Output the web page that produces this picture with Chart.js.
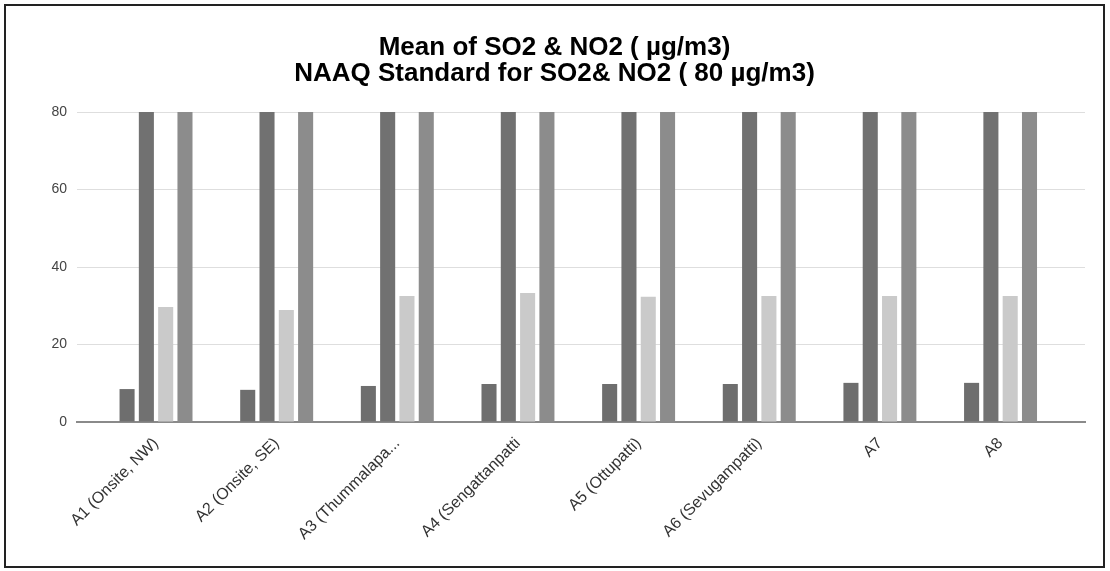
<!DOCTYPE html>
<html>
<head>
<meta charset="utf-8">
<script src="https://cdn.jsdelivr.net/npm/chart.js@4/dist/chart.umd.min.js"></script>
<style>
  body { margin: 0; background: #fff; }
  #frame {
    position: absolute; left: 4px; top: 4px;
    width: 1097px; height: 560px;
    border: 2px solid #222; background: #fff;
  }
</style>
</head>
<body>
<div id="frame"><canvas id="chart"></canvas></div>
<script>
// data
var sites = [
  "A1 (Onsite, NW)", "A2 (Onsite, SE)", "A3 (Thummalapa...", "A4 (Sengattanpatti",
  "A5 (Ottupatti)", "A6 (Sevugampatti)", "A7", "A8"
];
var so2Mean = [8.5, 8.3, 9.3, 9.8, 9.8, 9.8, 10.1, 10.1];
var so2Std  = [80, 80, 80, 80, 80, 80, 80, 80];
var no2Mean = [29.7, 28.9, 32.5, 33.3, 32.3, 32.5, 32.5, 32.5];
var no2Std  = [80, 80, 80, 80, 80, 80, 80, 80];
var yTicks  = [0, 20, 40, 60, 80];

function pts(arr) {
  return arr.map(function(v, i) { return { x: i, y: v }; });
}

var font = "'Liberation Sans', Arial, sans-serif";

var datasets = [
  { label: "SO2 Mean", data: pts(so2Mean), backgroundColor: "#6e6e6e" },
  { label: "SO2 Standard", data: pts(so2Std), backgroundColor: "#717171" },
  { label: "NO2 Mean", data: pts(no2Mean), backgroundColor: "#cacaca" },
  { label: "NO2 Standard", data: pts(no2Std), backgroundColor: "#8c8c8c" }
];

var ctx = document.getElementById("chart");

var chart = new Chart(ctx, {
  type: "bar",
  data: { datasets: datasets },
  options: {
    responsive: true,
    maintainAspectRatio: false,
    animation: false,
    layout: { padding: { left: 18, right: 18, top: 0, bottom: 0 } },
    datasets: {
      bar: { categoryPercentage: 0.64, barPercentage: 0.78 }
    },
    plugins: {
      legend: { display: false },
      tooltip: { enabled: false },
      title: {
        display: true,
        text: ["Mean of SO2 & NO2 ( \u00b5g/m3)", "NAAQ Standard for SO2& NO2 ( 80 \u00b5g/m3)"],
        color: "#000",
        font: { family: font, size: 26, weight: "bold", lineHeight: 1.0 },
        padding: { top: 29, bottom: 25 }
      }
    },
    scales: {
      x: {
        type: "linear",
        min: -0.655,
        max: 7.7,
        offset: false,
        grid: { display: false, drawTicks: false },
        border: { display: true, color: "#8a8a8a", width: 2 },
        afterBuildTicks: function(scale) {
          scale.ticks = sites.map(function(s, i) { return { value: i }; });
        },
        afterFit: function(scale) { scale.height = 144; },
        ticks: {
          autoSkip: false,
          minRotation: 45,
          maxRotation: 45,
          padding: 12,
          color: "#333",
          font: { family: font, size: 16 },
          callback: function(v) { return sites[v]; }
        }
      },
      y: {
        min: 0,
        max: 80,
        afterBuildTicks: function(scale) {
          scale.ticks = yTicks.map(function(v) { return { value: v }; });
        },
        afterFit: function(scale) { scale.width = 53; },
        grid: { color: "#dedede", lineWidth: 1, drawTicks: false },
        border: { display: false },
        ticks: {
          padding: 10,
          color: "#444",
          font: { family: font, size: 14 }
        }
      }
    }
  }
});
</script>
</body>
</html>
